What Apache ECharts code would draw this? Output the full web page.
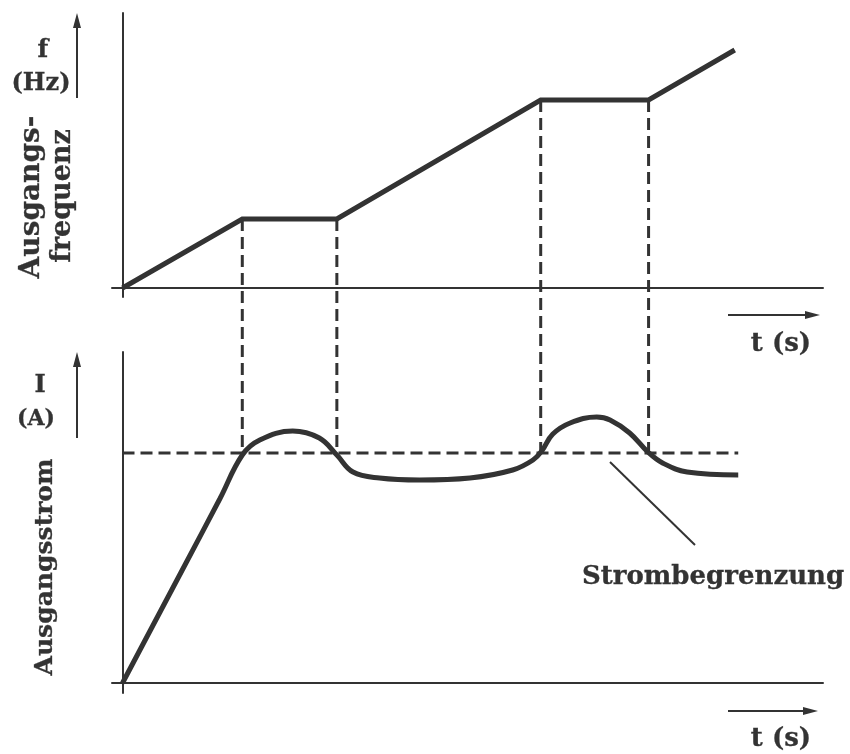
<!DOCTYPE html>
<html>
<head>
<meta charset="utf-8">
<script src="https://cdn.jsdelivr.net/npm/echarts@6/dist/echarts.min.js"></script>
<style>html,body{margin:0;padding:0;background:#fff}#c{width:850px;height:754px}</style>
</head>
<body>
<div id="c"></div>
<script>
// ---- data (schematic time units) ----
const freqT = [0, 17.1, 30.6, 59.7, 75.1, 87.4];
const freqF = [0, 27.6, 27.6, 75.2, 75.2, 95.2];
const curT = [0, 4.3, 9.1, 13.9, 17.1, 19.6, 24.3, 28.1, 30.6, 32.9, 36.7, 42.4, 49.6, 55.7, 58.6, 59.9, 61.4, 63.9, 67.7, 69.6, 72.4, 75.0, 77.1, 80.6, 87.9];
const curI = [0, 22.8, 48.2, 73.7, 91.2, 97.2, 100.8, 98.0, 91.2, 84.4, 82.0, 81.2, 82.0, 85.2, 89.2, 93.0, 99.5, 104.0, 106.4, 105.2, 100.0, 92.4, 88.0, 84.4, 83.2];
const kneeT = [17.1, 30.6, 59.7, 75.1];
const kneeF = [27.6, 27.6, 75.2, 75.2];
const limitLevel = 92;
const limitEnd = 87.9;
const labels = {
  fTop: 'f', fUnit: '(Hz)', fName1: 'Ausgangs-', fName2: 'frequenz',
  iTop: 'I', iUnit: '(A)', iName: 'Ausgangsstrom',
  t: 't (s)', limit: 'Strombegrenzung'
};

const C = '#333333';
const FONT = '"DejaVu Serif", "Liberation Serif", serif';
const chart = echarts.init(document.getElementById('c'), null, {renderer: 'canvas'});

function axisX(gi) {
  return {gridIndex: gi, type: 'value', min: -1.5, max: 100,
    axisLine: {show: true, onZero: true, lineStyle: {color: C, width: 2}},
    axisTick: {show: false}, axisLabel: {show: false}, splitLine: {show: false}};
}
function axisY(gi, min, max) {
  return {gridIndex: gi, type: 'value', min: min, max: max,
    axisLine: {show: true, onZero: true, lineStyle: {color: C, width: 2}},
    axisTick: {show: false}, axisLabel: {show: false}, splitLine: {show: false}};
}
function txt(x, y, text, size, rot, align) {
  return {type: 'text', x: x, y: y, rotation: rot || 0,
    style: {text: text, font: 'bold ' + size + 'px ' + FONT, fill: C,
      stroke: C, lineWidth: 0.3, align: align || 'center', verticalAlign: 'middle'}};
}
function hArrow(x1, x2, y) {
  return [
    {type: 'line', shape: {x1: x1, y1: y, x2: x2 - 10, y2: y}, style: {stroke: C, lineWidth: 2}},
    {type: 'polygon', shape: {points: [[x2, y], [x2 - 15, y - 4], [x2 - 15, y + 4]]}, style: {fill: C}}
  ];
}
function vArrow(x, y1, y2) {
  return [
    {type: 'line', shape: {x1: x, y1: y1, x2: x, y2: y2 + 10}, style: {stroke: C, lineWidth: 2}},
    {type: 'polygon', shape: {points: [[x, y2], [x - 4, y2 + 15], [x + 4, y2 + 15]]}, style: {fill: C}}
  ];
}

const dash = {color: C, width: 3, type: [12, 6]};

const option = {
  backgroundColor: '#fff',
  animation: false,
  grid: [
    {left: 112, right: 27, top: 13, height: 284},
    {left: 112, right: 27, top: 352, height: 341}
  ],
  xAxis: [axisX(0), axisX(1)],
  yAxis: [axisY(0, -3.6, 110), axisY(1, -4, 132.4)],
  series: [
    {type: 'line', xAxisIndex: 0, yAxisIndex: 0, symbol: 'none',
      data: freqT.map((t, i) => [t, freqF[i]]),
      lineStyle: {color: C, width: 5, join: 'miter'}},
    {type: 'line', xAxisIndex: 1, yAxisIndex: 1, symbol: 'none', smooth: 0.4,
      data: curT.map((t, i) => [t, curI[i]]),
      lineStyle: {color: C, width: 5}},
    {type: 'line', xAxisIndex: 1, yAxisIndex: 1, symbol: 'none',
      data: [[0, limitLevel], [limitEnd, limitLevel]], lineStyle: dash}
  ],
  graphic: [
    ...vArrow(77, 98, 13),
    txt(43, 50, labels.fTop, 25),
    txt(41, 84, labels.fUnit, 24),
    txt(32, 197, labels.fName1, 28, Math.PI / 2),
    txt(63, 196, labels.fName2, 27, Math.PI / 2),
    ...vArrow(77, 438, 352),
    txt(40, 386, labels.iTop, 24),
    txt(36, 419, labels.iUnit, 22),
    txt(45, 567, labels.iName, 25, Math.PI / 2),
    ...hArrow(728, 820, 315),
    txt(781, 344, labels.t, 26),
    ...hArrow(728, 818, 711),
    txt(781, 739, labels.t, 26),
    {type: 'line', shape: {x1: 610, y1: 462, x2: 695, y2: 545}, style: {stroke: C, lineWidth: 2}},
    txt(582, 577, labels.limit, 26, 0, 'left')
  ]
};
chart.setOption(option);

// vertical dashed guides: from frequency knee (top grid) down to the current limit (bottom grid)
const extra = kneeT.map((t, i) => {
  const px = chart.convertToPixel({gridIndex: 1}, [t, limitLevel]);
  const inTop = chart.convertFromPixel({gridIndex: 0}, px);
  return {type: 'line', xAxisIndex: 0, yAxisIndex: 0, symbol: 'none', clip: false,
    data: [[t, kneeF[i]], [t, inTop[1]]], lineStyle: dash, z: 1};
});
chart.setOption({series: option.series.concat(extra)});
</script>
</body>
</html>
